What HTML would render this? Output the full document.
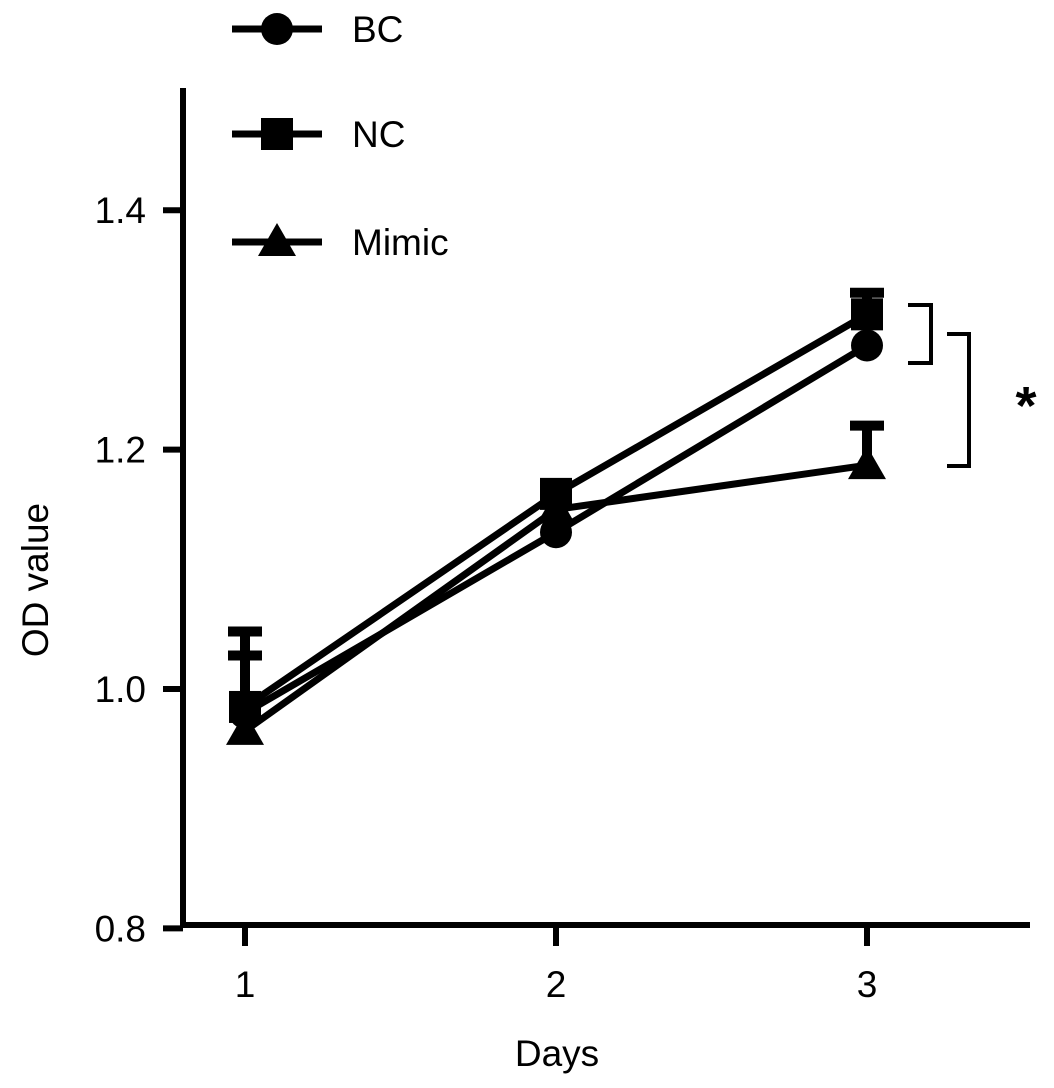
<!DOCTYPE html>
<html><head><meta charset="utf-8"><style>
body{margin:0;background:#fff}
svg{display:block;font-family:"Liberation Sans",sans-serif}
</style></head><body>
<svg id="chart" width="1054" height="1088" viewBox="0 0 1054 1088">
<g id="axes"></g><g id="series"></g><g id="legend"></g>
<g fill="none" stroke="#000" stroke-width="4">
<polyline points="908,305 931,305 931,363 908,363"/>
<polyline points="947,334 969,334 969,466 947,466"/>
</g>
<text x="1026" y="424" font-size="54" font-weight="bold" text-anchor="middle">*</text>
</svg>
<script>
const days=[1,2,3];
const yTicks=[0.8,1.0,1.2,1.4];
const tickLabels=["0.8","1.0","1.2","1.4"];
const seriesNames=["BC","NC","Mimic"];
const bcVals=[0.980,1.131,1.287];
const ncVals=[0.985,1.163,1.313];
const mimicVals=[0.965,1.150,1.187];
const bcErr=[0.048,0.0,0.0];
const ncErr=[0.063,0.0,0.018];
const mimicErr=[0.0,0.0,0.033];
const NS="http://www.w3.org/2000/svg";
const xs=d=>245+(d-1)*311;
const ys=v=>689-(v-1.0)*1197;
function mk(t,a,p){const e=document.createElementNS(NS,t);for(const k in a)e.setAttribute(k,a[k]);p.appendChild(e);return e;}
const ax=document.getElementById('axes');
let e=mk('line',{x1:183,y1:88,x2:183,y2:928,stroke:'#000','stroke-width':6},ax);

e=mk('line',{x1:180,y1:925,x2:1030,y2:925,stroke:'#000','stroke-width':6},ax);

yTicks.forEach((v,i)=>{const y=ys(v);
 e=mk('line',{x1:163,y1:y,x2:183,y2:y,stroke:'#000','stroke-width':6},ax);
 
 e=mk('text',{x:146,y:y+13,'font-size':37,'text-anchor':'end'},ax);e.textContent=tickLabels[i];
 });
days.forEach(d=>{const x=xs(d);
 e=mk('line',{x1:x,y1:925,x2:x,y2:946,stroke:'#000','stroke-width':6},ax);
 
 e=mk('text',{x:x,y:997,'font-size':37,'text-anchor':'middle'},ax);e.textContent=String(d);
 });
e=mk('text',{x:557,y:1066,'font-size':37,'text-anchor':'middle'},ax);e.textContent='Days';

e=mk('text',{x:0,y:0,'font-size':37,'text-anchor':'middle',transform:'translate(48,580) rotate(-90)'},ax);e.textContent='OD value';

function marker(type,x,y,p){
 if(type==='circle')return mk('circle',{cx:x,cy:y,r:16,fill:'#000'},p);
 if(type==='square')return mk('rect',{x:x-16,y:y-16,width:32,height:32,fill:'#000'},p);
 return mk('polygon',{points:`${x},${y-19} ${x+19},${y+14} ${x-19},${y+14}`,fill:'#000'},p);}
const defs=[[bcVals,bcErr,'circle','bc'],[ncVals,ncErr,'square','nc'],[mimicVals,mimicErr,'triangle','mimic']];
const sg=document.getElementById('series');
defs.forEach(([vals,err,m,n])=>{
 const g=mk('g',{},sg);
 e=mk('polyline',{points:vals.map((v,i)=>xs(days[i])+','+ys(v)).join(' '),fill:'none',stroke:'#000','stroke-width':7},g);
 
 vals.forEach((v,i)=>{const x=xs(days[i]);
  if(err[i]>0){const yt=ys(v+err[i]);
   e=mk('path',{d:`M${x},${ys(v)}V${yt}M${x-17},${yt}H${x+17}`,stroke:'#000','stroke-width':10,fill:'none'},g);
   }
  e=marker(m,x,ys(v),g);});
});
const lg=document.getElementById('legend');
const legY=[29,134,242];
seriesNames.forEach((s,i)=>{
 const g=mk('g',{},lg);
 e=mk('line',{x1:232,y1:legY[i],x2:322,y2:legY[i],stroke:'#000','stroke-width':7},g);
 
 e=marker(defs[i][2],277,legY[i],g);
 e=mk('text',{x:352,y:legY[i]+13,'font-size':37},g);e.textContent=s;
 });
</script>
</body></html>
